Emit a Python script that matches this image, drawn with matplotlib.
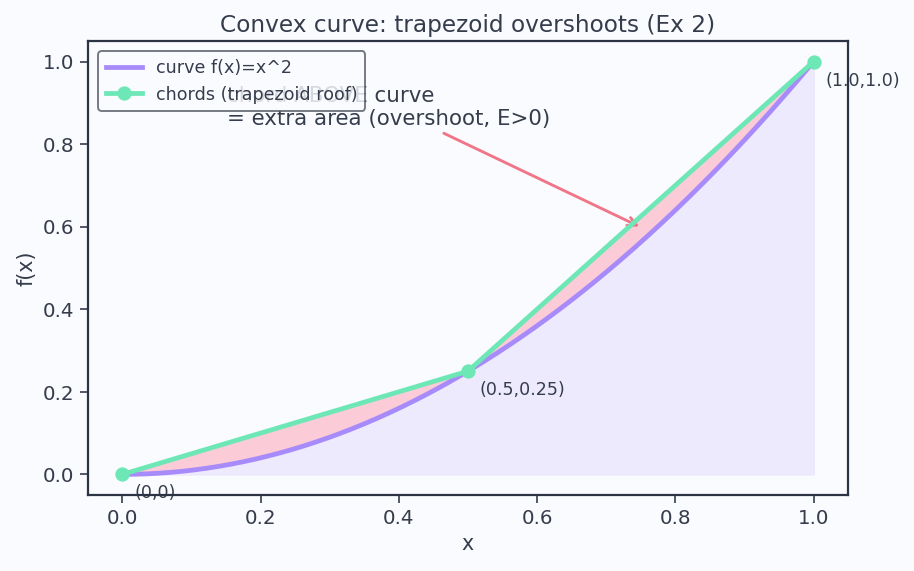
import numpy as np
import matplotlib
matplotlib.use("Agg")
import matplotlib.pyplot as plt

# nodes of the trapezoid rule and the curve f(x)=x^2
nodes_x = [0.0, 0.5, 1.0]
nodes_y = [0.0, 0.25, 1.0]
node_labels = ["(0,0)", "(0.5,0.25)", "(1.0,1.0)"]

x = np.linspace(0, 1, 400)
y = x ** 2
chord = np.interp(x, nodes_x, nodes_y)

txt = "#353c4b"
spine = "#2b3345"
bg = "#fafbfe"

plt.rcParams.update({
    "font.family": "DejaVu Sans",
    "text.color": txt,
    "axes.labelcolor": txt,
    "xtick.color": txt,
    "ytick.color": txt,
})

fig, ax = plt.subplots(figsize=(8, 5), dpi=114.25)
fig.patch.set_facecolor(bg)
ax.set_facecolor(bg)

# area under the curve and the overshoot between chord and curve
ax.fill_between(x, 0, y, color="#ebe7fd", alpha=0.85, zorder=1)
ax.fill_between(x, y, chord, color="#fbcbd8", alpha=1.0, zorder=1.5)

ax.plot(x, y, color="#a78bfa", lw=3, label="curve f(x)=x^2", zorder=3)
ax.plot(nodes_x, nodes_y, color="#6ee7b7", lw=3, marker="o", ms=8,
        label="chords (trapezoid roof)", zorder=4)

for nx, ny, lab in zip(nodes_x, nodes_y, node_labels):
    ax.annotate(lab, (nx, ny), xytext=(7.5, -15), textcoords="offset points",
                fontsize=11, color=txt, zorder=2)

ax.annotate("chord ABOVE curve\n= extra area (overshoot, E>0)",
            xy=(0.752, 0.597), xytext=(0.152, 0.847),
            fontsize=13.5, color=txt, zorder=2,
            arrowprops=dict(arrowstyle="->", color="#f07588", lw=1.8))

ax.set_title("Convex curve: trapezoid overshoots (Ex 2)", fontsize=14.7, color=txt)
ax.set_xlabel("x", fontsize=13)
ax.set_ylabel("f(x)", fontsize=13)
ax.tick_params(labelsize=12.5, length=5, width=1, color=spine)
for s in ax.spines.values():
    s.set_color(spine)
    s.set_linewidth(1.4)
    s.set_zorder(5)

leg = ax.legend(loc="upper left", fontsize=11, facecolor=bg, edgecolor="#555a66",
                framealpha=0.82, fancybox=True, borderaxespad=0.6,
                handlelength=2.1, borderpad=0.42, labelspacing=0.5)
leg.set_zorder(6)
leg.get_frame().set_linewidth(1.2)

fig.subplots_adjust(left=0.096, right=0.928, top=0.928, bottom=0.133)
fig.savefig("out.png", dpi=114.25, facecolor=bg)
